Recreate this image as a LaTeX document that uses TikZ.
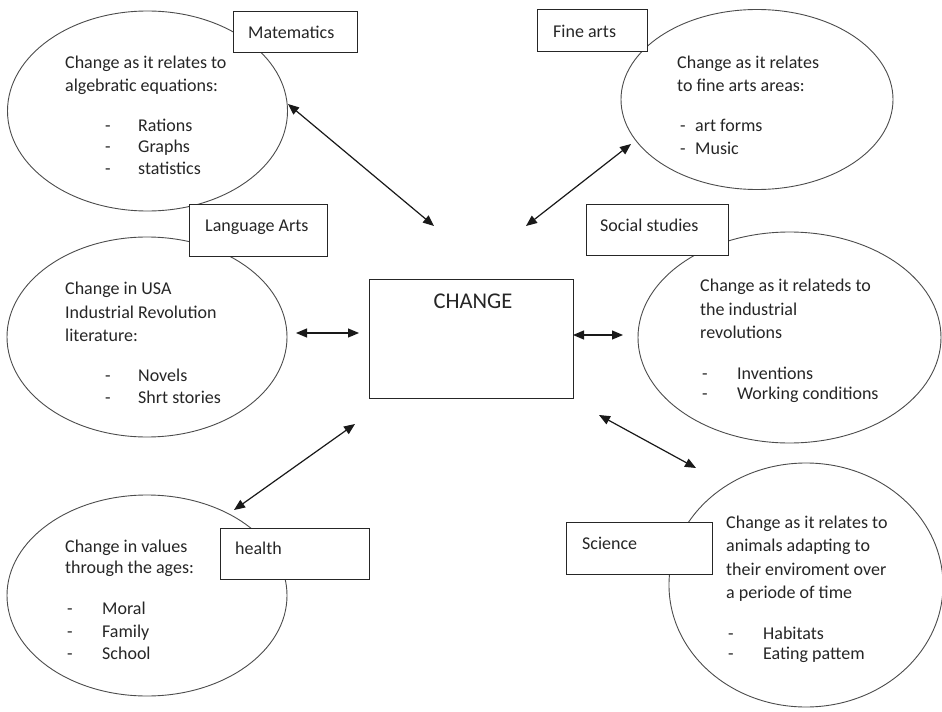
\documentclass[tikz,border=0pt]{standalone}
\usepackage{fontspec}
\setmainfont{Carlito}
\usetikzlibrary{shapes.geometric,arrows.meta}
\newcommand\dashitem[2]{\makebox[#1][l]{-}#2}
\begin{document}
\begin{tikzpicture}[x=1bp,y=-1bp,
  bubble/.style={draw=black!70, line width=0.9bp, ellipse, inner sep=0pt},
  tag/.style={draw=black!85, line width=1.1bp, fill=white, rectangle, anchor=north west, inner sep=0pt},
  tagtext/.style={anchor=base west, inner sep=0pt, font=\fontsize{18bp}{22bp}\selectfont, text=black!85},
  body/.style={anchor=base west, inner sep=0pt, align=left, text=black!85},
  link/.style={{Triangle[length=11bp,width=9bp]}-{Triangle[length=11bp,width=9bp]}, line width=1.2bp, draw=black!90}
]
\useasboundingbox[fill=white] (0,0) rectangle (942,712);

% ellipses
\node[bubble, minimum width=280bp, minimum height=200bp] (mathell) at (147.5,111) {};
\node[bubble, minimum width=272bp, minimum height=180bp] (artell) at (757,99.5) {};
\node[bubble, minimum width=280bp, minimum height=200bp] (langell) at (147,337) {};
\node[bubble, minimum width=303bp, minimum height=211bp] (socell) at (789.5,337.5) {};
\node[bubble, minimum width=280bp, minimum height=201bp] (healthell) at (147,595.5) {};
\node[bubble, minimum width=274bp, minimum height=244bp] (sciell) at (806,585) {};

% boxes
\node[tag, minimum width=124bp, minimum height=41bp] (mathbox) at (233,11) {};
\node[tag, minimum width=110bp, minimum height=42bp] (artbox) at (537,9) {};
\node[tag, minimum width=138bp, minimum height=52bp] (langbox) at (189,204) {};
\node[tag, minimum width=142bp, minimum height=51bp] (socbox) at (586,204) {};
\node[tag, minimum width=149bp, minimum height=51bp] (healthbox) at (220,528) {};
\node[tag, minimum width=146bp, minimum height=52bp] (scibox) at (566,522) {};
\node[tag, minimum width=204bp, minimum height=119bp] (changebox) at (369,279) {};

% box labels
\node[tagtext] (mathlabel) at (248,38.5) {Matematics};
\node[tagtext] (artlabel) at (553,38) {Fine arts};
\node[tagtext] (langlabel) at (205,231.5) {Language Arts};
\node[tagtext] (soclabel) at (600,231.5) {Social studies};
\node[tagtext] (healthlabel) at (235,554.5) {health};
\node[tagtext] (scilabel) at (582,549.5) {Science};
\node[tagtext, font=\fontsize{22.5bp}{26bp}\selectfont, anchor=base] (changelabel) at (473,308.5) {CHANGE};

% ellipse texts (anchored at the baseline of their last line)
\node[body, font=\fontsize{18bp}{23bp}\selectfont] (mathhead) at (65,91.5) {Change as it relates to\\algebratic equations:};
\node[body, font=\fontsize{18bp}{21.5bp}\selectfont] (mathlist) at (105,174.5) {\dashitem{33bp}{Rations}\\\dashitem{33bp}{Graphs}\\\dashitem{33bp}{statistics}};

\node[body, font=\fontsize{18bp}{23bp}\selectfont] (arthead) at (677,91.5) {Change as it relates\\to fine arts areas:};
\node[body, font=\fontsize{18bp}{23bp}\selectfont] (artlist) at (680,154.5) {\dashitem{15bp}{art forms}\\\dashitem{15bp}{Music}};

\node[body, font=\fontsize{18bp}{23.5bp}\selectfont] (langhead) at (65,341.5) {Change in USA\\Industrial Revolution\\literature:};
\node[body, font=\fontsize{18bp}{22bp}\selectfont] (langlist) at (105,403.5) {\dashitem{33bp}{Novels}\\\dashitem{33bp}{Shrt stories}};

\node[body, font=\fontsize{18bp}{23.5bp}\selectfont] (sochead) at (700,338.5) {Change as it relateds to\\the industrial\\revolutions};
\node[body, font=\fontsize{18bp}{20bp}\selectfont] (soclist) at (702,399.5) {\dashitem{35bp}{Inventions}\\\dashitem{35bp}{Working conditions}};

\node[body, font=\fontsize{18bp}{21bp}\selectfont] (healthhead) at (65,573.5) {Change in values\\through the ages:};
\node[body, font=\fontsize{18bp}{22.5bp}\selectfont] (healthlist) at (67,659.5) {\dashitem{35bp}{Moral}\\\dashitem{35bp}{Family}\\\dashitem{35bp}{School}};

\node[body, font=\fontsize{18bp}{23.3bp}\selectfont] (scihead) at (726,598.4) {Change as it relates to\\animals adapting to\\their enviroment over\\a periode of time};
\node[body, font=\fontsize{18bp}{20bp}\selectfont] (scilist) at (728,659.5) {\dashitem{35bp}{Habitats}\\\dashitem{35bp}{Eating pattem}};

% arrows
\coordinate (ma) at (288,104);
\coordinate (mb) at (434,226);
\coordinate (fa) at (631,144);
\coordinate (fb) at (526,226);
\coordinate (la) at (296,333);
\coordinate (lb) at (359,333);
\coordinate (sa) at (573,335);
\coordinate (sb) at (623,335);
\coordinate (ha) at (234,510);
\coordinate (hb) at (355,424);
\coordinate (ca) at (599,415);
\coordinate (cb) at (696,468);
\draw[link] (ma) -- (mb);
\draw[link] (fa) -- (fb);
\draw[link] (la) -- (lb);
\draw[link] (sa) -- (sb);
\draw[link] (ha) -- (hb);
\draw[link] (ca) -- (cb);
\end{tikzpicture}
\end{document}
